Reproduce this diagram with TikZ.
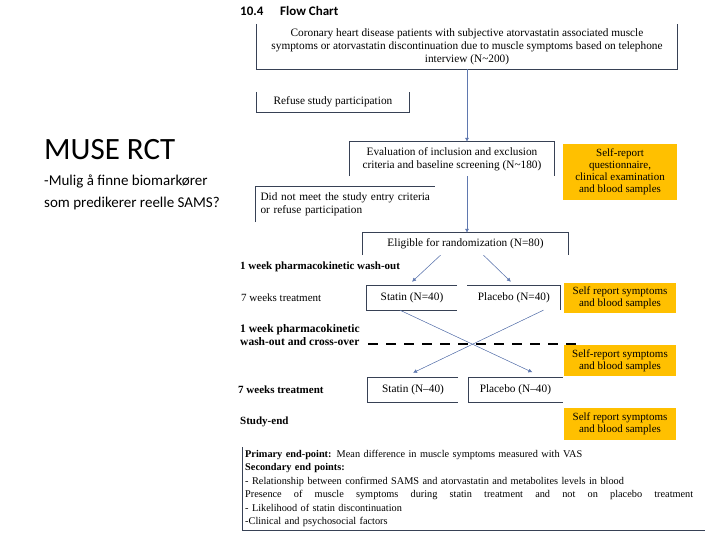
\documentclass[tikz,border=0pt]{standalone}
\usepackage{fontspec}
\setmainfont{Liberation Serif}
\newfontfamily\calibfont{Carlito}
\usetikzlibrary{positioning,arrows.meta}
\definecolor{boxline}{RGB}{55,65,85}
\definecolor{arrowblue}{RGB}{95,120,175}
\definecolor{gold}{RGB}{255,192,0}
\tikzset{
  box/.style={inner sep=1pt,align=center,font=\fontsize{11.3}{13}\selectfont},
  side/.style={draw=boxline,line width=0.8pt},
  obox/.style={fill=gold,minimum width=112pt,inner sep=1pt,align=center,font=\fontsize{11}{12}\selectfont},
  phase/.style={anchor=west,inner sep=0pt,align=left,font=\bfseries\fontsize{11}{13}\selectfont},
  edge/.style={-{Latex[length=4pt,width=4pt]},draw=arrowblue,fill=arrowblue,line width=0.5pt},
  xover/.style={draw=black,line width=2.6pt,dash pattern=on 10pt off 8pt}
}
\begin{document}
\begin{tikzpicture}[x=1pt,y=-1pt]
\useasboundingbox (0,0) rectangle (720,540);
\node[anchor=west,inner sep=0pt,font=\calibfont\bfseries\fontsize{13}{13}\selectfont] (sec) at (240,11) {10.4};
\node[anchor=west,inner sep=0pt,font=\calibfont\bfseries\fontsize{13}{13}\selectfont] (ttl) at (280,11) {Flow Chart};
\node[anchor=west,inner sep=0pt,font=\calibfont\fontsize{31}{31}\selectfont] (muse) at (44,150) {MUSE RCT};
\node[anchor=west,inner sep=0pt,align=left,font=\calibfont\fontsize{15}{22}\selectfont] (q) at (44,192) {-Mulig å finne biomarkører\\som predikerer reelle SAMS?};
\node[box,minimum width=420pt,minimum height=45pt] (coh) at (467,46.5) {Coronary heart disease patients with subjective atorvastatin associated muscle\\symptoms or atorvastatin discontinuation due to muscle symptoms based on telephone\\interview (N\textasciitilde200)};
\draw[side] (coh.north west) |- (coh.south east) -- (coh.north east);
\node[box,minimum width=152pt,minimum height=20pt] (ref) at (333,102) {Refuse study participation};
\draw[side] (ref.north west) |- (ref.south east) -- (ref.north east);
\node[box,minimum width=204pt,minimum height=34pt] (ev) at (452,159) {Evaluation of inclusion and exclusion\\criteria and baseline screening (N\textasciitilde180)};
\draw[side] (ev.south west) |- (ev.north east) -- (ev.south east);
\node[obox,minimum width=114pt,minimum height=56pt] (o1) at (620,172) {Self-report\\questionnaire,\\clinical examination\\and blood samples};
\node[box,text width=170pt,align=left,inner sep=4.5pt,minimum height=35pt] (nm) at (345.5,204.5) {Did not meet the study entry criteria\\or refuse participation};
\draw[side] (nm.south west) |- (nm.north east);
\node[box,minimum width=205pt,minimum height=22pt] (el) at (465.5,244) {Eligible for randomization (N=80)};
\draw[side] (el.south west) |- (el.north east) -- (el.south east);
\draw[edge] (coh.south) -- (coh.south |- ev.north);
\draw[edge] (coh.south |- ev.south) -- (coh.south |- el.north);
\node[phase] (w1) at (240,267) {1 week pharmacokinetic wash-out};
\node[phase,font=\fontsize{11}{13}\selectfont] (t1) at (241,298) {7 weeks treatment};
\node[box,minimum width=90pt,minimum height=24pt] (s1) at (412,298) {Statin (N=40)};
\node[box,minimum width=93pt,minimum height=24pt,right=10pt of s1] (p1) {Placebo (N=40)};
\draw[side] (s1.north east) -| (s1.south west) -- (s1.south east);
\draw[side] (p1.north west) -| (p1.south east);
\node[obox,minimum height=30pt] (o2) at (620,298) {Self report symptoms\\and blood samples};
\draw[edge] ([xshift=-25pt]el.south) -- ([yshift=4pt]s1.north);
\draw[edge] ([xshift=18pt]el.south) -- ([xshift=-3pt,yshift=4pt]p1.north);
\node[phase,font=\bfseries\fontsize{11.5}{13}\selectfont] (w2) at (240,335.5) {1 week pharmacokinetic\\wash-out and cross-over};
\coordinate (xl) at (368,344); \coordinate (xr) at (578,344);
\draw[xover] (xl) -- (xr);
\node[obox,minimum height=31pt] (o3) at (620,360.5) {Self-report symptoms\\and blood samples};
\node[phase] (t2) at (238,390) {7 weeks treatment};
\node[box,minimum width=90pt,minimum height=24pt] (s2) at (413,390) {Statin (N–40)};
\node[box,minimum width=94pt,minimum height=25pt,right=10pt of s2] (p2) {Placebo (N–40)};
\draw[side] (s2.north east) -| (s2.south west) -- (s2.south east);
\draw[side] (p2.north east) -| (p2.south west) -- (p2.south east);
\draw[edge] ([xshift=-12pt]s1.south) -- ([xshift=17pt,yshift=5pt]p2.north);
\draw[edge] ([xshift=29.5pt]p1.south) -- ([yshift=5pt]s2.north);
\node[phase] (se) at (240,422) {Study-end};
\node[obox,minimum height=32pt] (o4) at (620,424) {Self report symptoms\\and blood samples};
\node[anchor=north west,text width=457pt,inner sep=3pt,align=left,font=\fontsize{10.3}{13.5}\selectfont] (ep) at (242,447) {\textbf{Primary end-point:} Mean difference in muscle symptoms measured with VAS\\\textbf{Secondary end points:}\\- Relationship between confirmed SAMS and atorvastatin and metabolites levels in blood\\\leavevmode\hbox to 448pt{Presence\hfil of\hfil muscle\hfil symptoms\hfil during\hfil statin\hfil treatment\hfil and\hfil not\hfil on\hfil placebo\hfil treatment}\\- Likelihood of statin discontinuation\\-Clinical and psychosocial factors};
\draw[side] (ep.north west) |- (ep.south east);
\end{tikzpicture}
\end{document}
